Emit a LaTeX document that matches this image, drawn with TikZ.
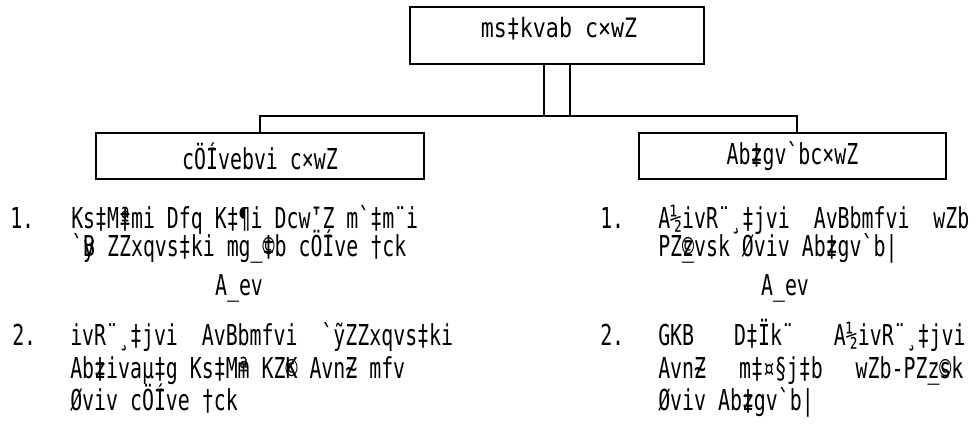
\documentclass[tikz,border=0pt]{standalone}
\usepackage{fontspec}
\newfontfamily\itemfont[FakeStretch=0.69,Ligatures=TeXOff]{DejaVu Sans Mono}
\newfontfamily\headfont[FakeStretch=0.81,Ligatures=TeXOff]{DejaVu Sans Mono}
\newcommand\ov[2]{\makebox[0pt][l]{#1}#2}
\tikzset{
  box/.style={draw,line width=1pt,inner sep=0pt},
  link/.style={line width=1pt},
  itm/.style={anchor=base west,inner sep=0pt,font=\itemfont\fontsize{21.6}{26}\selectfont},
  orl/.style={anchor=base,inner sep=0pt,font=\itemfont\fontsize{21.6}{26}\selectfont},
  head/.style={anchor=base,inner sep=0pt,font=\headfont\fontsize{20}{24}\selectfont}
}
\begin{document}
\begin{tikzpicture}[x=0.75pt,y=-0.75pt]
\useasboundingbox (0,0) rectangle (974,431);

\node[box,minimum width=220.5pt,minimum height=42.75pt] (top) at (557,35.5) {};
\node[head] (toptxt) at (559,38) {ms‡kvab c×wZ};

\node[box,minimum width=246pt,minimum height=34.5pt,font=\itemfont\fontsize{21.6}{26}\selectfont] (left) at (260,156) {cÖ\ov{¯}{Í}vebvi c×wZ};
\node[box,minimum width=230.25pt,minimum height=34.5pt,font=\itemfont\fontsize{21.6}{26}\selectfont] (right) at (792.5,156) {Ab\ov{z}{‡}gv`bc×wZ};

\coordinate (jl) at (260,116);
\coordinate (jr) at (797,116);
\draw[link] ([xshift=-9.75pt]top.south) -- ([xshift=-9.75pt]top.south |- jl);
\draw[link] ([xshift=9.75pt]top.south) -- ([xshift=9.75pt]top.south |- jl);
\draw[link] (left.north) -- (jl) -- (jr) -- (jr |- right.north);

% left list
\node[itm] (ln1) at (10,228) {1.};
\node[itm] (la1) at (71,228) {Ks‡M\ov{ª}{‡}mi Dfq K‡¶i Dcw\ov{¯}{'}Z m`‡m¨i};
\node[itm] (la2) at (71,256) {`\ov{y}{B} ZZxqvs‡ki mg\_\ov{©}{‡}b cÖ\ov{¯}{Í}ve †ck};
\node[orl] (lor) at (239,295) {A\_ev};
\node[itm] (ln2) at (12,345) {2.};
\node[itm] (lb1) at (70,345) {ivR¨¸‡jvi\ \ AvBbmfvi\ \ `\ov{y}{˜}ZZxqvs‡ki};
\node[itm] (lb2) at (70,378) {Ab\ov{z}{‡}ivaµ‡g Ks‡M\ov{ª}{m} KZ\ov{©}{K} Avn\ov{\textasciitilde}{Z} mfv};
\node[itm] (lb3) at (70,410) {Øviv cÖ\ov{¯}{Í}ve †ck};

% right list
\node[itm] (rn1) at (600,228) {1.};
\node[itm] (ra1) at (658,228) {A½ivR¨¸‡jvi\ \ AvBbmfvi\ \ wZb};
\node[itm] (ra2) at (658,256) {PZ\ov{z}{\ov{©}{\_}}vsk Øviv Ab\ov{z}{‡}gv`b|};
\node[orl] (ror) at (785,295) {A\_ev};
\node[itm] (rn2) at (600,345) {2.};
\node[itm] (rb1) at (658,345) {GKB\hspace{30pt}D‡Ïk¨\hspace{30pt}A½ivR¨¸‡jvi};
\node[itm] (rb2) at (658,378) {Avn\ov{\textasciitilde}{Z}\hspace{24.7pt}m‡¤§j‡b\hspace{24.7pt}wZb-PZ\ov{z}{\_}\ov{©}{s}k};
\node[itm] (rb3) at (658,410) {Øviv Ab\ov{z}{‡}gv`b|};
\end{tikzpicture}
\end{document}
